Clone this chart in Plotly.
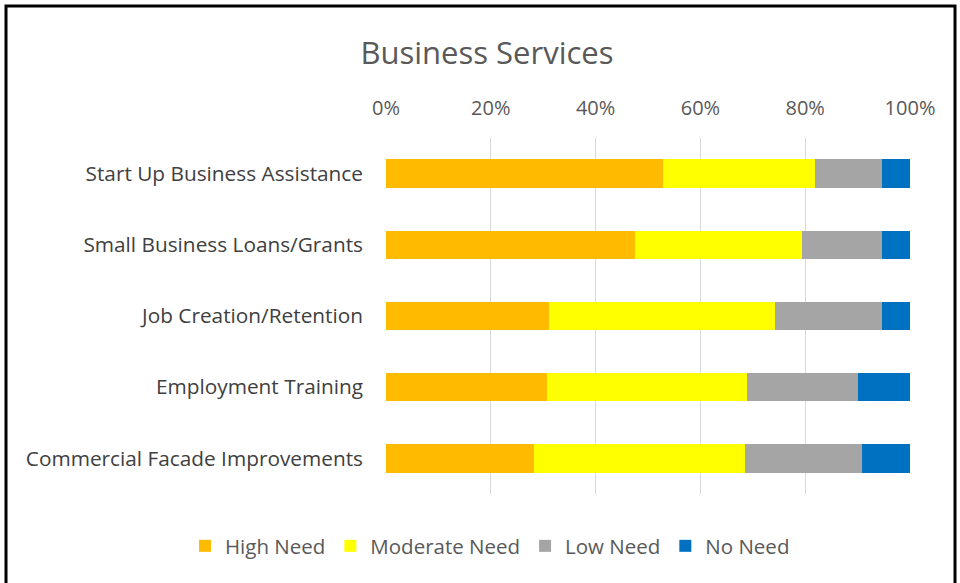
import plotly.graph_objects as go

# Survey categories (top to bottom as shown)
categories = [
    "Start Up Business Assistance",
    "Small Business Loans/Grants",
    "Job Creation/Retention",
    "Employment Training",
    "Commercial Facade Improvements",
]

# Share of responses per need level (percent)
high_need = [52.8, 47.5, 31.2, 30.7, 28.2]
moderate_need = [29.1, 31.9, 43.0, 38.2, 40.3]
low_need = [12.7, 15.2, 20.4, 21.1, 22.4]
no_need = [5.4, 5.4, 5.4, 10.0, 9.1]

series = [
    ("High Need", high_need, "#FFBB00"),
    ("Moderate Need", moderate_need, "#FFFF00"),
    ("Low Need", low_need, "#A5A5A5"),
    ("No Need", no_need, "#0070C0"),
]

tick_vals = [0, 20, 40, 60, 80, 100]
tick_text = ["0%", "20%", "40%", "60%", "80%", "100%"]

FONT = "Open Sans"
W, H = 960, 583

fig = go.Figure()
for name, vals, color in series:
    fig.add_trace(go.Bar(
        y=categories,
        x=vals,
        name=name,
        orientation="h",
        marker=dict(color=color, line=dict(width=0)),
        hoverinfo="x+y+name",
    ))

fig.update_layout(
    width=W,
    height=H,
    autosize=False,
    barmode="stack",
    bargap=0.6,
    margin=dict(l=0, r=0, t=0, b=0, autoexpand=False),
    paper_bgcolor="white",
    plot_bgcolor="white",
    font=dict(family=FONT, color="#595959"),
    title=dict(
        text="Business Services",
        x=487 / W,
        xanchor="center",
        y=1 - 53 / H,
        yanchor="middle",
        font=dict(size=31, color="#595959", family=FONT),
    ),
    xaxis=dict(
        domain=[386 / W, 910 / W],
        range=[0, 100],
        side="top",
        tickvals=tick_vals,
        ticktext=tick_text,
        showgrid=True,
        gridcolor="#D9D9D9",
        gridwidth=1,
        zeroline=False,
        showline=False,
        ticks="",
        automargin=False,
        ticklabelstandoff=18,
        tickfont=dict(size=20, color="#595959", family=FONT),
        fixedrange=True,
    ),
    yaxis=dict(
        domain=[1 - 494 / H, 1 - 138 / H],
        categoryorder="array",
        categoryarray=categories[::-1],
        showgrid=False,
        showline=False,
        ticks="",
        automargin=False,
        ticklabelstandoff=22,
        tickfont=dict(size=20.8, color="#404040", family=FONT),
        fixedrange=True,
    ),
    legend=dict(
        orientation="h",
        x=490 / W,
        xanchor="center",
        y=1 - 546 / H,
        yanchor="middle",
        font=dict(size=20.5, color="#595959", family=FONT),
        itemwidth=30,
        traceorder="normal",
    ),
    showlegend=True,
)

# Outer frame around the chart
fig.add_shape(
    type="rect",
    xref="paper", yref="paper",
    x0=6 / W, x1=955 / W,
    y0=-0.05, y1=1 - 6 / H,
    line=dict(color="black", width=3),
    fillcolor="rgba(0,0,0,0)",
    layer="above",
)

fig.write_html("out.html")
